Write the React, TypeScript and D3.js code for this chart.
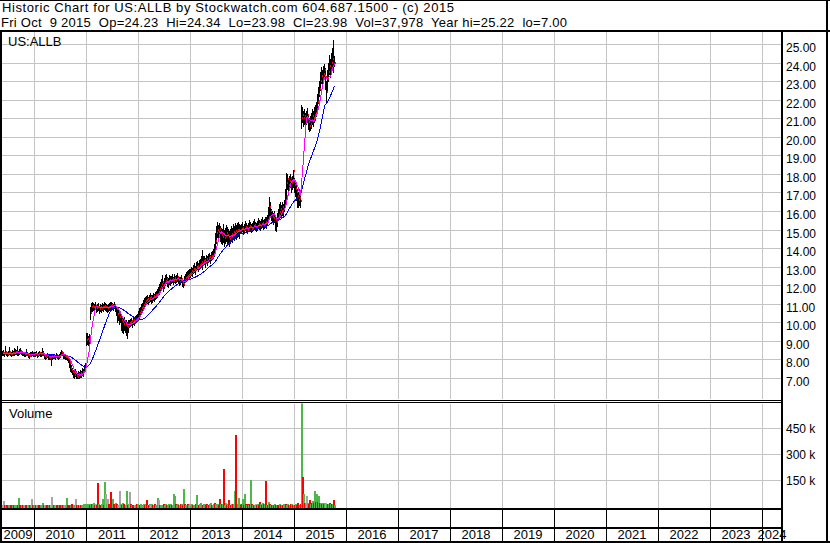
import React from 'react';
import * as d3 from 'd3';

const W = 830;
const H = 543;

// Weekly closes (May 22 2009 .. Oct 9 2015)
const weeklyClose = [
  8.33, 8.35, 8.30, 8.38, 8.33, 8.30, 8.35, 8.40, 8.32, 8.30, 8.36, 8.33, 8.35, 8.38,
  8.40, 8.36, 8.34, 8.42, 8.45, 8.38, 8.35, 8.33, 8.30, 8.28, 8.35, 8.32, 8.22, 8.20, 8.28, 8.30, 8.33, 8.30,
  8.30, 8.28, 8.32, 8.25, 8.30, 8.33, 8.28, 8.30, 8.35, 8.32,
  8.20, 8.15, 8.18, 8.22, 8.15, 8.10, 8.12, 8.18, 8.15, 8.20, 8.18, 8.15, 8.22, 8.18, 8.15, 8.20, 8.25, 8.40, 8.35, 8.22, 8.18, 8.15, 8.12, 8.10,
  8.00, 7.80, 7.55, 7.45, 7.35,
  7.25, 7.15, 7.30, 7.10, 7.05, 7.20, 7.15, 7.25, 7.20, 7.35, 7.30,
  7.50, 7.60,
  9.05, 9.10, 9.00, 9.15,
  10.50, 10.80, 10.90,
  10.85, 10.80, 10.90, 10.75, 10.80, 10.85, 10.70, 10.80, 10.75, 10.85, 10.80, 10.90, 10.85, 10.80, 10.75, 10.80, 10.85, 10.90, 10.95, 10.90, 10.85, 10.95,
  10.85, 10.70, 10.45, 10.50, 10.30, 10.40, 10.10, 10.00, 9.90, 10.05, 9.85, 9.80, 9.75, 9.90,
  9.95, 10.00, 10.05, 9.95, 10.10, 10.05, 10.15, 10.20, 10.25,
  10.35, 10.50, 10.60, 10.75, 10.80, 10.95, 11.05, 11.15,
  11.20, 11.25, 11.15, 11.30, 11.35, 11.25, 11.30, 11.40, 11.35, 11.45, 11.50, 11.55,
  11.65, 11.80, 11.90, 12.05, 12.20, 11.95, 12.10, 12.25, 12.35, 12.20, 12.15, 12.30, 12.25,
  12.30, 12.35, 12.25, 12.40, 12.30, 12.35, 12.45, 12.30, 12.20, 12.25, 12.35, 12.10, 12.05, 12.15, 12.30, 12.40, 12.45, 12.50, 12.55, 12.60,
  12.65, 12.75, 12.70, 12.85, 12.90, 12.80, 13.00, 13.05, 12.95, 13.10,
  13.15, 13.25, 13.10, 13.30, 13.35, 13.20, 13.40, 13.30, 13.45, 13.50, 13.40, 13.55, 13.60, 13.70,
  13.90, 14.40, 14.80, 15.00, 14.85, 15.05,
  14.80, 14.70, 14.60, 14.75, 14.55, 14.65, 14.80, 14.70, 14.60, 14.50, 14.65, 14.75, 14.70, 14.85, 14.80, 14.90, 14.85, 14.95, 15.00, 14.90,
  15.00, 15.05, 15.10, 14.95, 15.05, 15.15, 15.10, 15.00, 15.10, 15.20, 15.15, 15.05, 15.10, 15.20, 15.25, 15.15, 15.10, 15.20, 15.30, 15.25, 15.20, 15.30, 15.35, 15.25, 15.30, 15.40, 15.35,
  15.50, 15.70, 16.20, 16.00, 15.80, 15.70, 15.60, 15.75, 15.50, 15.40, 15.60, 15.80, 15.95, 16.10, 16.00, 16.20,
  16.10, 16.30, 16.60, 17.50, 17.70, 17.40, 17.60, 17.80, 17.50, 17.60, 18.15, 17.40, 17.20, 17.00, 16.80, 16.60, 16.70,
  16.55, 21.00,
  21.20, 21.00, 21.10, 20.90, 21.05, 21.15, 20.80, 20.60, 20.70, 20.90, 21.10, 21.00, 21.20, 21.30, 21.50,
  21.90, 22.30, 22.60, 23.00, 23.30, 23.10, 23.40, 23.60, 23.20, 22.40,
  23.10, 23.50, 23.80, 23.60, 24.00, 24.20, 23.90, 23.98,
];

const weeklyHigh = [
  8.45, 8.50, 8.42, 8.70, 8.45, 8.42, 8.48, 8.68, 8.44, 8.40, 8.50, 8.45, 8.62, 8.55,
  8.52, 8.72, 8.45, 8.55, 8.60, 8.48, 8.45, 8.42, 8.40, 8.38, 8.58, 8.42, 8.35, 8.32, 8.38, 8.40, 8.45, 8.40,
  8.40, 8.38, 8.45, 8.35, 8.42, 8.45, 8.38, 8.40, 8.62, 8.45,
  8.32, 8.25, 8.30, 8.35, 8.25, 8.22, 8.22, 8.30, 8.25, 8.30, 8.28, 8.25, 8.35, 8.28, 8.25, 8.32, 8.38, 8.50, 8.48, 8.32, 8.28, 8.25, 8.22, 8.20,
  8.15, 8.05, 7.85, 7.70, 7.55,
  7.45, 7.40, 7.50, 7.35, 7.25, 7.40, 7.35, 7.45, 7.40, 7.55, 7.50,
  7.70, 7.80,
  9.40, 9.45, 9.25, 9.35,
  10.80, 11.05, 11.10,
  11.05, 11.00, 11.10, 10.95, 11.00, 11.05, 10.90, 11.00, 10.95, 11.05, 11.00, 11.10, 11.05, 11.00, 10.95, 11.00, 11.05, 11.10, 11.10, 11.05, 11.00, 11.10,
  11.00, 10.90, 10.80, 10.70, 10.60, 10.60, 10.40, 10.30, 10.20, 10.30, 10.10, 10.10, 10.00, 10.10,
  10.15, 10.20, 10.25, 10.15, 10.30, 10.25, 10.35, 10.40, 10.45,
  10.60, 10.75, 10.85, 11.00, 11.05, 11.20, 11.30, 11.35,
  11.40, 11.45, 11.35, 11.50, 11.60, 11.45, 11.50, 11.60, 11.55, 11.65, 11.70, 11.80,
  11.90, 12.05, 12.20, 12.35, 12.55, 12.25, 12.40, 12.55, 12.60, 12.45, 12.40, 12.55, 12.50,
  12.50, 12.60, 12.45, 12.60, 12.50, 12.55, 12.65, 12.50, 12.45, 12.45, 12.55, 12.35, 12.30, 12.40, 12.50, 12.60, 12.70, 12.75, 12.80, 12.85,
  12.90, 13.00, 12.95, 13.10, 13.20, 13.05, 13.25, 13.30, 13.20, 13.35,
  13.40, 13.55, 13.90, 13.55, 13.60, 13.45, 13.65, 13.55, 13.70, 13.75, 13.65, 13.80, 13.85, 13.95,
  14.20, 14.80, 15.20, 15.40, 15.25, 15.35,
  15.20, 15.10, 15.05, 15.30, 15.00, 15.10, 15.25, 15.15, 15.05, 14.90, 15.05, 15.20, 15.10, 15.30, 15.20, 15.35, 15.25, 15.35, 15.40, 15.30,
  15.25, 15.30, 15.40, 15.20, 15.30, 15.45, 15.35, 15.25, 15.35, 15.50, 15.40, 15.30, 15.35, 15.45, 15.55, 15.40, 15.35, 15.45, 15.60, 15.50, 15.45, 15.55, 15.65, 15.50, 15.55, 15.70, 15.65,
  15.80, 16.20, 16.75, 16.50, 16.10, 16.00, 15.90, 16.00, 15.80, 15.70, 15.90, 16.10, 16.40, 16.50, 16.30, 16.50,
  16.40, 16.60, 17.20, 18.05, 18.00, 17.80, 17.90, 18.00, 17.80, 17.90, 18.20, 17.80, 17.60, 17.40, 17.20, 17.00, 17.20,
  17.00, 21.70,
  21.60, 21.40, 21.50, 21.30, 21.40, 21.55, 21.20, 21.00, 21.10, 21.30, 21.50, 21.40, 21.60, 21.70, 21.90,
  22.30, 22.70, 23.00, 23.50, 23.75, 23.60, 23.80, 23.90, 23.70, 23.00,
  23.60, 24.00, 24.40, 24.20, 24.50, 24.80, 25.22, 24.34,
];

const weeklyLow = [
  8.22, 8.25, 8.20, 8.28, 8.24, 8.20, 8.26, 8.30, 8.22, 8.20, 8.26, 8.24, 8.25, 8.28,
  8.30, 8.26, 8.24, 8.32, 8.34, 8.28, 8.25, 8.22, 8.20, 8.18, 8.25, 8.22, 8.12, 8.10, 8.18, 8.20, 8.22, 8.20,
  8.20, 8.18, 8.22, 8.15, 8.20, 8.22, 8.18, 8.20, 8.24, 8.22,
  8.10, 8.05, 8.08, 8.12, 8.05, 8.00, 8.02, 7.70, 8.05, 8.10, 8.08, 8.05, 8.12, 8.08, 8.05, 8.10, 8.15, 8.28, 8.22, 8.10, 8.08, 8.05, 8.00, 7.98,
  7.85, 7.60, 7.40, 7.30, 7.20,
  7.05, 7.00, 7.10, 7.00, 7.00, 7.02, 7.00, 7.05, 7.05, 7.15, 7.12,
  7.30, 7.40,
  8.80, 8.85, 8.80, 8.90,
  10.20, 10.50, 10.60,
  10.65, 10.60, 10.70, 10.55, 10.60, 10.65, 10.50, 10.60, 10.55, 10.65, 10.60, 10.70, 10.65, 10.60, 10.55, 10.60, 10.65, 10.70, 10.75, 10.70, 10.65, 10.75,
  10.60, 10.40, 10.00, 10.10, 9.90, 10.00, 9.60, 9.50, 9.40, 9.60, 9.50, 9.30, 9.15, 9.50,
  9.75, 9.80, 9.85, 9.75, 9.90, 9.85, 9.95, 10.00, 10.05,
  10.15, 10.25, 10.40, 10.50, 10.60, 10.70, 10.85, 10.95,
  11.05, 11.05, 11.00, 11.10, 11.15, 11.05, 11.10, 11.20, 11.15, 11.25, 11.30, 11.35,
  11.45, 11.55, 11.65, 11.80, 11.95, 11.70, 11.85, 12.00, 12.10, 11.95, 11.90, 12.05, 12.00,
  12.10, 12.15, 12.05, 12.20, 12.10, 12.15, 12.25, 12.10, 12.00, 12.05, 12.15, 11.95, 11.90, 12.00, 12.10, 12.20, 12.25, 12.30, 12.35, 12.40,
  12.45, 12.55, 12.50, 12.65, 12.70, 12.60, 12.80, 12.85, 12.75, 12.90,
  12.95, 13.00, 12.90, 13.10, 13.15, 13.00, 13.20, 13.10, 13.25, 13.30, 13.20, 13.35, 13.40, 13.45,
  13.60, 13.90, 14.30, 14.60, 14.50, 14.70,
  14.40, 14.30, 14.20, 14.35, 14.10, 14.25, 14.40, 14.30, 14.20, 14.10, 14.25, 14.40, 14.35, 14.50, 14.45, 14.55, 14.50, 14.60, 14.65, 14.55,
  14.80, 14.85, 14.90, 14.75, 14.85, 14.95, 14.90, 14.80, 14.90, 15.00, 14.95, 14.85, 14.90, 15.00, 15.05, 14.95, 14.90, 15.00, 15.10, 15.05, 15.00, 15.10, 15.15, 15.05, 15.10, 15.15, 15.10,
  15.30, 15.40, 15.80, 15.70, 15.50, 15.40, 15.30, 15.40, 15.00, 14.90, 15.20, 15.50, 15.60, 15.70, 15.70, 15.80,
  15.80, 16.00, 16.20, 16.60, 17.20, 17.00, 17.20, 17.30, 17.00, 17.20, 17.30, 17.00, 16.80, 16.60, 16.20, 16.20, 16.30,
  16.20, 20.50,
  20.80, 20.60, 20.70, 20.50, 20.70, 20.80, 20.40, 20.30, 20.35, 20.50, 20.70, 20.60, 20.80, 20.90, 21.10,
  21.40, 21.80, 22.20, 22.50, 22.90, 22.70, 22.90, 23.10, 22.60, 21.80,
  22.50, 23.00, 23.40, 23.20, 23.60, 23.80, 23.50, 23.80,
];

// Weekly volume, thousands of shares
const weeklyVolume = [
  6, 30, 5, 4, 6, 8, 5, 4, 7, 5, 6, 4, 5, 8, 6, 5, 46, 7, 5, 6,
  5, 4, 6, 5, 7, 8, 5, 6, 4, 40, 5, 6, 4, 7, 5, 6, 5, 4, 6, 5,
  17, 5, 6, 4, 5, 7, 6, 5, 4, 52, 6, 5, 7, 4, 8, 5, 6, 4, 5, 7,
  6, 5, 7, 5, 46, 6, 8, 5, 7, 12, 6, 5, 6, 40, 5, 7, 6, 5, 8, 6,
  6, 12, 10, 14, 12, 11, 13, 8, 10, 9, 12, 17, 8, 10, 7, 133, 9, 8, 6, 10,
  40, 8, 137, 69, 10, 40, 12, 9, 81, 8, 40, 10, 7, 17, 9, 8, 6, 88, 10, 8,
  20, 9, 8, 7, 87, 8, 10, 83, 9, 7, 6, 8, 5, 7, 9, 10, 8, 6, 12, 7,
  8, 9, 7, 10, 35, 8, 6, 9, 7, 10, 8, 6, 9, 7, 8, 46, 35, 6, 8, 7,
  8, 12, 7, 9, 6, 8, 10, 7, 9, 6, 8, 69, 60, 9, 7, 12, 8, 6, 9, 10,
  8, 98, 7, 9, 8, 6, 10, 7, 12, 8, 9, 7, 6, 8, 10, 63, 8, 7, 9, 17,
  7, 8, 9, 10, 6, 12, 8, 7, 9, 17, 6, 8, 9, 17, 10, 12, 9, 8, 40, 14,
  9, 10, 213, 8, 17, 7, 9, 35, 8, 6, 12, 9, 10, 87, 410, 8, 9, 46, 10, 8,
  9, 40, 8, 69, 10, 7, 9, 8, 10, 152, 9, 8, 7, 6, 9, 8, 10, 7, 23, 9,
  8, 17, 9, 10, 144, 8, 7, 25, 9, 8, 6, 8, 7, 9, 6, 8, 7, 8, 9, 7,
  8, 7, 9, 8, 10, 6, 9, 7, 8, 10, 9, 7, 8, 6, 9, 7, 15, 8, 7, 9,
  650, 167, 69, 20, 15, 60, 18, 12, 35, 14, 16, 30, 20, 87, 25, 72, 22, 55, 18, 15,
  12, 15, 9, 18, 17, 10, 14, 12, 17, 10, 12, 9, 37, 8,
];

// u = up week (green), d = down week (red), n = unchanged (grey); groups of five weeks
const volumeDirection = [
  'nndud duudd uduuu duddu',
  'dundd nudun duudn udduu',
  'udnud dudnn udund duddu',
  'dunuu dddud duund udndu',
  'uuuuu uudud uudnd duddu',
  'udunu ndddd uddud unnud',
  'udduu dundu ddnud uuduu',
  'uudud udunu duduu unduu',
  'uduud uudud uuudu udndu',
  'duddu udunu uduud uuduu',
  'uduud duduu duudu uuddu',
  'duduu dudud uduud duuud',
  'dudud ududu dudun duddu',
  'dudud ududu dudud uddud',
  'uduud uudud ududu dddud',
  'ududu nuddu dudud ududu',
  'dudun ududu dudu',
]
  .join('')
  .replace(/ /g, '')
  .split('');

const priceTicks = [7, 8, 9, 10, 11, 12, 13, 14, 15, 16, 17, 18, 19, 20, 21, 22, 23, 24, 25];
const volumeTicks = [150, 300, 450];
const yearLabels = d3.range(2009, 2025);

const FONT = '"Liberation Sans", Arial, Helvetica, sans-serif';
const GRID = '#c4c4c4';

export default function App() {
  const n = Math.min(weeklyClose.length, weeklyHigh.length, weeklyLow.length);
  const dates = d3.range(n).map((i) => new Date(2009, 4, 22 + 7 * i));

  const left = 2;
  const axisX = 782;
  const x = d3.scaleTime().domain([new Date(2010, 0, 1), new Date(2024, 0, 1)]).range([34, 762]);
  const yP = d3.scaleLinear().domain([7, 25]).range([378, 44]);
  const yV = d3.scaleLinear().domain([0, 450]).range([506, 428]);

  const sma = (len: number) =>
    weeklyClose.slice(0, n).map((_, i) => d3.mean(weeklyClose.slice(Math.max(0, i - len + 1), i + 1)) as number);
  const maShort = sma(6);
  const maLong = sma(24);

  const line = d3
    .line<number>()
    .x((_, i) => Math.round(x(dates[i])) + 0.5)
    .y((d) => yP(d))
    .curve(d3.curveLinear);

  const yearLines = d3.range(2010, 2025).map((y) => Math.round(x(new Date(y, 0, 1))) + 0.5);

  const volColor = (c: string) => (c === 'u' ? '#4cb848' : c === 'd' ? '#ff0000' : '#a6a6a6');

  return (
    <svg
      width={W}
      height={H}
      viewBox={`0 0 ${W} ${H}`}
      style={{ position: 'absolute', left: 0, top: 0, background: '#fff' }}
      fontFamily={FONT}
    >
      <rect x={0} y={0} width={W} height={H} fill="#fff" />
      <defs>
        <clipPath id="pclip">
          <rect x={left} y={32} width={axisX - 1 - left} height={367} />
        </clipPath>
        <clipPath id="vclip">
          <rect x={left} y={403.5} width={axisX - 1 - left} height={105} />
        </clipPath>
      </defs>

      {/* header */}
      <text x={2} y={12} fontSize={13} fill="#000" textLength={452} lengthAdjust="spacing">
        Historic Chart for US:ALLB by Stockwatch.com 604.687.1500 - (c) 2015
      </text>
      <text
        x={1}
        y={27}
        fontSize={13}
        fill="#000"
        style={{ whiteSpace: 'pre' }}
        textLength={566}
        lengthAdjust="spacing"
      >
        {'Fri Oct  9 2015  Op=24.23  Hi=24.34  Lo=23.98  Cl=23.98  Vol=37,978  Year hi=25.22  lo=7.00'}
      </text>

      {/* grid */}
      <g shapeRendering="crispEdges" stroke={GRID} strokeWidth={1}>
        {priceTicks.map((t) => (
          <line key={t} x1={left} x2={axisX - 1} y1={Math.round(yP(t)) + 0.5} y2={Math.round(yP(t)) + 0.5} />
        ))}
        {yearLines.map((xx, i) => (
          <line key={'p' + i} x1={xx} x2={xx} y1={32} y2={399} />
        ))}
        {volumeTicks.map((t) => (
          <line key={'v' + t} x1={left} x2={axisX - 1} y1={Math.round(yV(t)) + 0.5} y2={Math.round(yV(t)) + 0.5} />
        ))}
        {yearLines.map((xx, i) => (
          <line key={'vy' + i} x1={xx} x2={xx} y1={404} y2={508} />
        ))}
      </g>

      {/* price bars: high-low line, red close tick on its right */}
      <g clipPath="url(#pclip)">
        <g shapeRendering="crispEdges">
          {dates.map((d, i) => {
            const px = Math.round(x(d));
            const top = Math.round(yP(weeklyHigh[i]));
            const bot = Math.round(yP(weeklyLow[i]));
            return (
              <rect key={'b' + i} x={px} y={top} width={1} height={Math.max(1, bot - top + 1)} fill="#000" />
            );
          })}
          {dates.map((d, i) => (
            <rect
              key={'c' + i}
              x={Math.round(x(d)) + 1}
              y={Math.round(yP(weeklyClose[i])) - 1}
              width={1}
              height={2}
              fill="#ff0000"
            />
          ))}
        </g>
        <path d={line(maLong) || ''} fill="none" stroke="#0000ff" strokeWidth={1} shapeRendering="crispEdges" />
        <path d={line(maShort) || ''} fill="none" stroke="#ff00ff" strokeWidth={1} shapeRendering="crispEdges" />
      </g>

      {/* volume bars */}
      <g clipPath="url(#vclip)" shapeRendering="crispEdges">
        {weeklyVolume.slice(0, n).map((v, i) => {
          const xx = Math.round(x(dates[i]));
          const top = Math.round(yV(v));
          return (
            <rect
              key={'v' + i}
              x={xx}
              y={top}
              width={2}
              height={Math.max(1, 508 - top)}
              fill={volColor(volumeDirection[i] || 'n')}
            />
          );
        })}
      </g>

      {/* labels inside panels */}
      <text x={8} y={46} fontSize={13} fill="#000">
        US:ALLB
      </text>
      <text x={9} y={418} fontSize={13} fill="#000">
        Volume
      </text>

      {/* right axis labels */}
      {priceTicks.map((t) => (
        <text key={'pt' + t} x={786} y={Math.round(yP(t)) + 8} fontSize={12} fill="#000">
          {t.toFixed(2)}
        </text>
      ))}
      {volumeTicks.map((t) => (
        <text key={'vt' + t} x={786} y={Math.round(yV(t)) + 5} fontSize={12} fill="#000">
          {`${t} k`}
        </text>
      ))}

      {/* frame lines */}
      <g shapeRendering="crispEdges" stroke="#000">
        <line x1={0} x2={W} y1={30.5} y2={30.5} strokeWidth={2} />
        <line x1={1} x2={1} y1={30} y2={542} strokeWidth={2} />
        <line x1={axisX} x2={axisX} y1={30} y2={542} strokeWidth={2} />
        <line x1={827} x2={827} y1={0} y2={543} strokeWidth={2} />
        <line x1={0} x2={W} y1={0.5} y2={0.5} strokeWidth={1} />
        <line x1={left} x2={axisX} y1={400.5} y2={400.5} strokeWidth={1} />
        <line x1={left} x2={axisX} y1={402.5} y2={402.5} strokeWidth={1} />
        <line x1={left} x2={axisX} y1={509} y2={509} strokeWidth={2} />
        <line x1={left} x2={axisX} y1={527.5} y2={527.5} strokeWidth={2} />
        <line x1={0} x2={W} y1={541.5} y2={541.5} strokeWidth={2} />
        {yearLines.map((xx, i) => (
          <line key={'ax' + i} x1={xx} x2={xx} y1={509} y2={541} strokeWidth={1.5} />
        ))}
      </g>

      {/* year labels */}
      {yearLabels.map((yr) => {
        const a = Math.max(left, x(new Date(yr, 0, 1)));
        const b = Math.min(axisX, x(new Date(yr + 1, 0, 1)));
        return (
          <text key={'y' + yr} x={(a + b) / 2} y={539} fontSize={13} textAnchor="middle" fill="#000">
            {yr}
          </text>
        );
      })}
    </svg>
  );
}
